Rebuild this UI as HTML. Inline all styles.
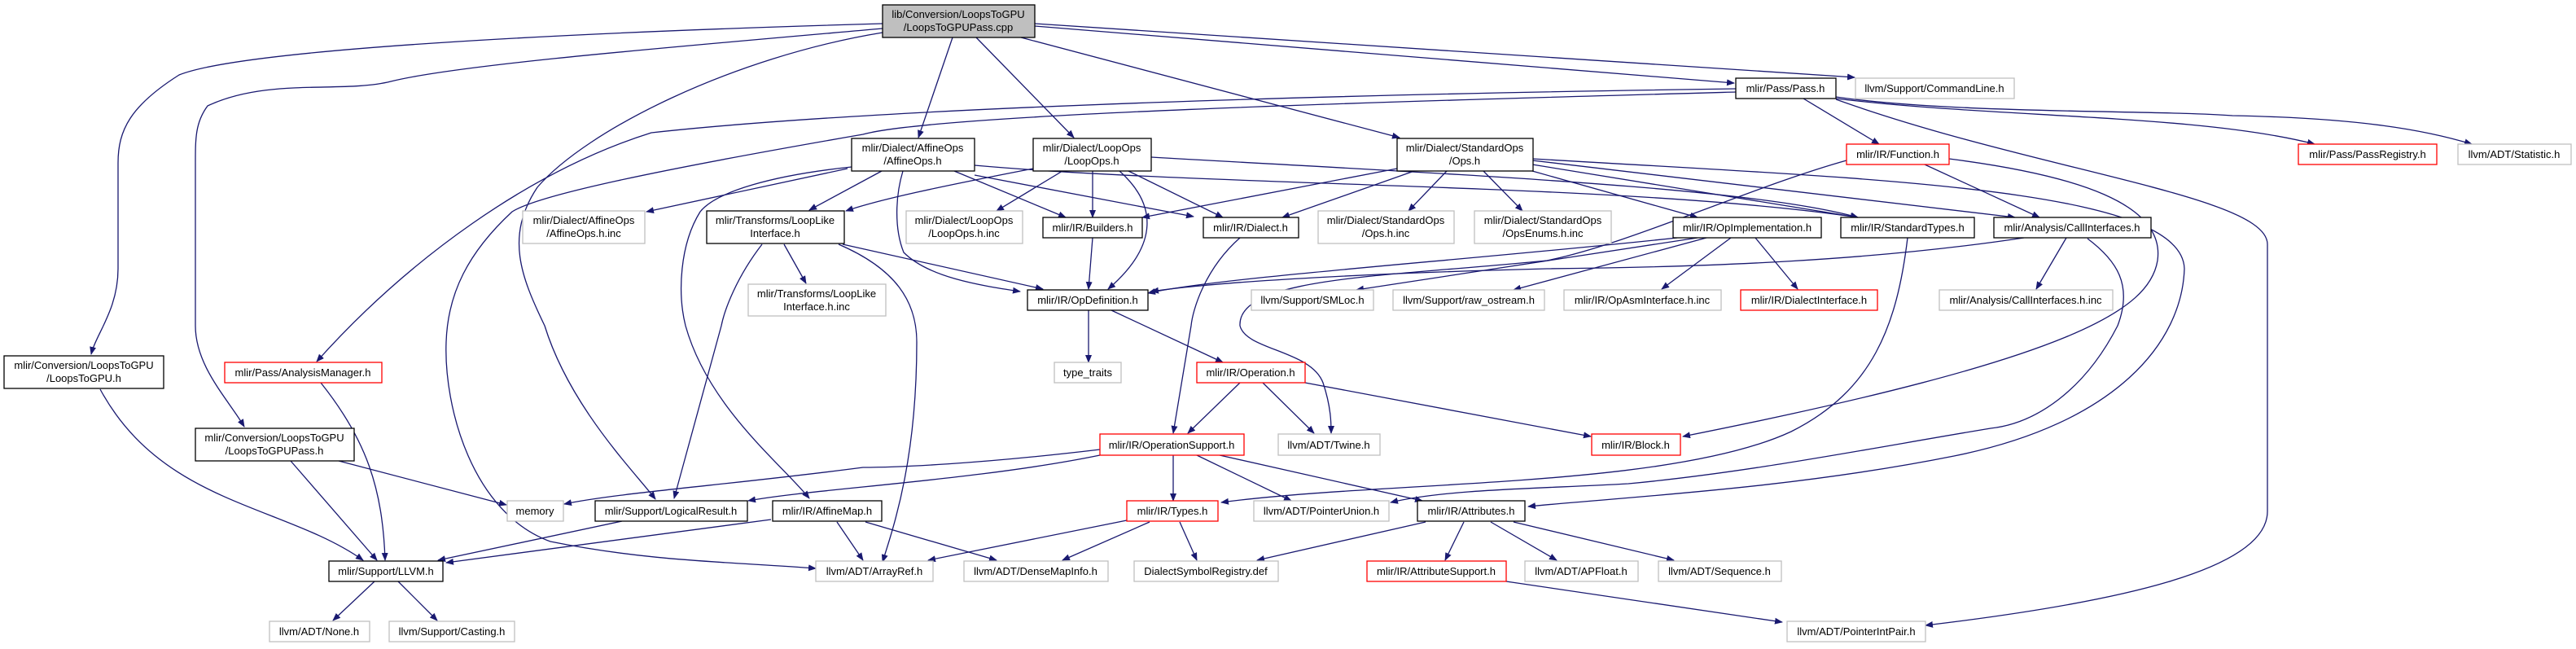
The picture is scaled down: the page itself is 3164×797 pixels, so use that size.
<!DOCTYPE html>
<html><head><meta charset="utf-8"><style>
html,body{margin:0;padding:0;background:#fff;}
svg{display:block;}
text{font-family:"Liberation Sans",sans-serif;font-size:13px;fill:#000;text-anchor:middle;}
.e{fill:none;stroke:#191970;stroke-width:1.3;}
.b{fill:#fff;stroke:#000;stroke-width:1.3;}
.g{fill:#fff;stroke:#bfbfbf;stroke-width:1.3;}
.r{fill:#fff;stroke:#ff0000;stroke-width:1.3;}
</style></head><body>
<svg width="3164" height="797" viewBox="0 0 3164 797" xmlns="http://www.w3.org/2000/svg">
<defs><marker id="a" markerWidth="10" markerHeight="8" refX="9" refY="4" orient="auto" markerUnits="userSpaceOnUse"><path d="M0,0 L10,4 L0,8 z" fill="#191970"/></marker></defs>
<g class="e" marker-end="url(#a)">
<path d="M1084,29 C700,40 300,60 220,92 C160,130 145,160 145,200 L145,330 C145,380 118,410 112,435"/>
<path d="M1084,35 C800,60 560,80 480,100 C420,115 330,95 255,130 C240,150 240,170 240,200 L240,400 C240,450 280,490 300,524"/>
<path d="M1084,40 C900,70 720,160 660,230 C620,290 640,340 669,400 C700,500 780,580 805,613"/>
<path d="M2132,109 C1700,115 1100,130 800,163 C650,210 500,320 389,444"/>
<path d="M2132,113 C1700,125 1150,140 1060,165 C800,210 660,240 629,260 C575,310 550,360 548,420 C545,500 580,630 676,665 C800,690 900,690 1002,698"/>
<path d="M1170,46 L1128,169"/>
<path d="M1199,46 L1319,169"/>
<path d="M1254,46 L1719,169"/>
<path d="M1271,32 L2130,102"/>
<path d="M1271,29 L2278,95"/>
<path d="M1041,207 L794,260"/>
<path d="M1083,210 L994,258"/>
<path d="M1269,207 C1150,230 1080,245 1039,259"/>
<path d="M1172,210 L1309,267"/>
<path d="M1197,215 L1466,266"/>
<path d="M1109,210 C1100,240 1098,280 1110,310 C1140,340 1200,350 1253,358"/>
<path d="M1046,205 C950,215 880,235 860,260 C835,300 832,360 842,400 C870,500 960,570 994,612"/>
<path d="M1197,203 C1500,230 2000,225 2282,267"/>
<path d="M1414,193 C1800,215 2150,230 2282,267"/>
<path d="M1882,210 L2085,267"/>
<path d="M1882,202 L2282,267"/>
<path d="M1882,197 L2475,267"/>
<path d="M1716,207 L1403,267"/>
<path d="M1737,210 L1575,267"/>
<path d="M1777,210 L1730,259"/>
<path d="M1822,210 L1870,259"/>
<path d="M1883,195 C2300,220 2680,230 2683,330 C2680,420 2600,520 2400,560 C2200,600 2000,610 1877,622"/>
<path d="M2343,292 C2330,400 2300,480 2200,530 C2050,600 1700,590 1500,617"/>
<path d="M2394,195 C2550,215 2660,250 2650,320 C2640,380 2550,440 2067,536"/>
<path d="M2564,293 C2600,320 2620,350 2601,400 C2560,480 2500,520 2445,526 C2300,550 2150,580 2000,594 C1900,600 1780,600 1708,617"/>
<path d="M2268,197 C2150,230 2000,300 1900,320 C1700,340 1520,340 1523,400 C1530,430 1610,430 1625,470 C1635,500 1635,520 1635,532"/>
<path d="M2060,292 C1800,320 1500,340 1410,360"/>
<path d="M2085,292 L1666,356"/>
<path d="M2096,292 L1859,356"/>
<path d="M2126,292 L2041,355"/>
<path d="M2156,292 L2208,355"/>
<path d="M2538,292 L2501,355"/>
<path d="M2486,292 C2300,320 2100,328 1900,330 C1700,335 1500,345 1414,358"/>
<path d="M2364,202 L2505,267"/>
<path d="M2215,121 L2308,177"/>
<path d="M2255,121 C2450,145 2700,140 2843,177"/>
<path d="M2255,119 C2400,140 2650,135 2742,142 C2900,145 2980,160 3036,177"/>
<path d="M2255,122 C2500,210 2785,240 2785,300 L2785,628 C2785,700 2600,740 2365,768"/>
<path d="M1305,210 L1224,259"/>
<path d="M1342,210 L1342,267"/>
<path d="M1386,210 L1502,267"/>
<path d="M1375,210 C1420,250 1425,300 1361,355"/>
<path d="M1342,292 L1337,355"/>
<path d="M1523,292 C1480,330 1465,380 1463,400 L1441,532"/>
<path d="M1035,300 L1281,355"/>
<path d="M1030,300 C1100,330 1126,370 1126,420 C1126,560 1100,640 1084,690"/>
<path d="M963,300 L990,348"/>
<path d="M936,300 C905,340 890,380 886,400 L828,612"/>
<path d="M1337,381 L1337,445"/>
<path d="M1365,381 L1502,445"/>
<path d="M1523,470 L1459,532"/>
<path d="M1551,470 L1614,532"/>
<path d="M1603,470 L1954,536"/>
<path d="M1441,559 L1441,615"/>
<path d="M1470,559 L1586,615"/>
<path d="M1498,559 L1747,615"/>
<path d="M1351,552 C1200,570 1100,574 1060,574 C900,595 760,605 693,619"/>
<path d="M1351,559 C1200,590 1000,600 919,615"/>
<path d="M1384,639 L1140,688"/>
<path d="M1412,641 L1305,688"/>
<path d="M1449,641 L1470,688"/>
<path d="M1751,641 L1544,688"/>
<path d="M1798,641 L1775,688"/>
<path d="M1831,641 L1912,688"/>
<path d="M1859,641 L2056,688"/>
<path d="M1850,714 L2189,764"/>
<path d="M1028,641 L1060,688"/>
<path d="M1063,641 L1224,688"/>
<path d="M947,638 L548,691"/>
<path d="M764,640 L538,688"/>
<path d="M123,478 C200,620 350,620 446,688"/>
<path d="M357,566 L463,688"/>
<path d="M416,566 L622,620"/>
<path d="M394,470 C450,540 470,600 473,688"/>
<path d="M460,714 L409,762"/>
<path d="M489,714 L537,762"/>
</g>
<g>
<rect x="1084" y="6" width="187" height="40" fill="#bfbfbf" stroke="#000" stroke-width="1.3"/><text x="1177" y="22">lib/Conversion/LoopsToGPU</text><text x="1177" y="38">/LoopsToGPUPass.cpp</text>
<rect class="b" x="2132" y="96" width="123" height="25"/><text x="2193" y="113">mlir/Pass/Pass.h</text>
<rect class="g" x="2279" y="96" width="195" height="25"/><text x="2376" y="113">llvm/Support/CommandLine.h</text>
<rect class="b" x="1046" y="170" width="151" height="40"/><text x="1121" y="186">mlir/Dialect/AffineOps</text><text x="1121" y="202">/AffineOps.h</text>
<rect class="b" x="1269" y="170" width="145" height="40"/><text x="1341" y="186">mlir/Dialect/LoopOps</text><text x="1341" y="202">/LoopOps.h</text>
<rect class="b" x="1716" y="170" width="167" height="40"/><text x="1799" y="186">mlir/Dialect/StandardOps</text><text x="1799" y="202">/Ops.h</text>
<rect class="r" x="2268" y="177" width="126" height="25"/><text x="2331" y="194">mlir/IR/Function.h</text>
<rect class="r" x="2823" y="177" width="170" height="25"/><text x="2908" y="194">mlir/Pass/PassRegistry.h</text>
<rect class="g" x="3019" y="177" width="139" height="25"/><text x="3088" y="194">llvm/ADT/Statistic.h</text>
<rect class="g" x="642" y="259" width="150" height="40"/><text x="717" y="275">mlir/Dialect/AffineOps</text><text x="717" y="291">/AffineOps.h.inc</text>
<rect class="b" x="868" y="259" width="169" height="40"/><text x="952" y="275">mlir/Transforms/LoopLike</text><text x="952" y="291">Interface.h</text>
<rect class="g" x="1113" y="259" width="143" height="40"/><text x="1184" y="275">mlir/Dialect/LoopOps</text><text x="1184" y="291">/LoopOps.h.inc</text>
<rect class="b" x="1281" y="267" width="122" height="25"/><text x="1342" y="284">mlir/IR/Builders.h</text>
<rect class="b" x="1478" y="267" width="117" height="25"/><text x="1536" y="284">mlir/IR/Dialect.h</text>
<rect class="g" x="1619" y="259" width="167" height="40"/><text x="1702" y="275">mlir/Dialect/StandardOps</text><text x="1702" y="291">/Ops.h.inc</text>
<rect class="g" x="1811" y="259" width="168" height="40"/><text x="1895" y="275">mlir/Dialect/StandardOps</text><text x="1895" y="291">/OpsEnums.h.inc</text>
<rect class="b" x="2055" y="267" width="182" height="25"/><text x="2146" y="284">mlir/IR/OpImplementation.h</text>
<rect class="b" x="2261" y="267" width="164" height="25"/><text x="2343" y="284">mlir/IR/StandardTypes.h</text>
<rect class="b" x="2449" y="267" width="193" height="25"/><text x="2545" y="284">mlir/Analysis/CallInterfaces.h</text>
<rect class="g" x="919" y="349" width="169" height="39"/><text x="1003" y="365">mlir/Transforms/LoopLike</text><text x="1003" y="381">Interface.h.inc</text>
<rect class="b" x="1262" y="356" width="148" height="25"/><text x="1336" y="373">mlir/IR/OpDefinition.h</text>
<rect class="g" x="1537" y="356" width="150" height="25"/><text x="1612" y="373">llvm/Support/SMLoc.h</text>
<rect class="g" x="1711" y="356" width="186" height="25"/><text x="1804" y="373">llvm/Support/raw_ostream.h</text>
<rect class="g" x="1921" y="356" width="193" height="25"/><text x="2017" y="373">mlir/IR/OpAsmInterface.h.inc</text>
<rect class="r" x="2138" y="356" width="168" height="25"/><text x="2222" y="373">mlir/IR/DialectInterface.h</text>
<rect class="g" x="2382" y="356" width="213" height="25"/><text x="2488" y="373">mlir/Analysis/CallInterfaces.h.inc</text>
<rect class="b" x="5" y="437" width="196" height="40"/><text x="103" y="453">mlir/Conversion/LoopsToGPU</text><text x="103" y="469">/LoopsToGPU.h</text>
<rect class="r" x="276" y="445" width="193" height="25"/><text x="372" y="462">mlir/Pass/AnalysisManager.h</text>
<rect class="g" x="1295" y="445" width="82" height="25"/><text x="1336" y="462">type_traits</text>
<rect class="r" x="1470" y="445" width="133" height="25"/><text x="1536" y="462">mlir/IR/Operation.h</text>
<rect class="b" x="240" y="526" width="195" height="40"/><text x="337" y="542">mlir/Conversion/LoopsToGPU</text><text x="337" y="558">/LoopsToGPUPass.h</text>
<rect class="r" x="1351" y="533" width="177" height="26"/><text x="1439" y="551">mlir/IR/OperationSupport.h</text>
<rect class="g" x="1570" y="533" width="125" height="26"/><text x="1632" y="551">llvm/ADT/Twine.h</text>
<rect class="r" x="1955" y="533" width="109" height="26"/><text x="2009" y="551">mlir/IR/Block.h</text>
<rect class="g" x="623" y="615" width="69" height="25"/><text x="657" y="632">memory</text>
<rect class="b" x="731" y="615" width="187" height="25"/><text x="824" y="632">mlir/Support/LogicalResult.h</text>
<rect class="b" x="949" y="615" width="134" height="25"/><text x="1016" y="632">mlir/IR/AffineMap.h</text>
<rect class="r" x="1384" y="615" width="112" height="25"/><text x="1440" y="632">mlir/IR/Types.h</text>
<rect class="g" x="1540" y="615" width="166" height="25"/><text x="1623" y="632">llvm/ADT/PointerUnion.h</text>
<rect class="b" x="1741" y="615" width="132" height="25"/><text x="1807" y="632">mlir/IR/Attributes.h</text>
<rect class="b" x="404" y="689" width="140" height="25"/><text x="474" y="706">mlir/Support/LLVM.h</text>
<rect class="g" x="1002" y="689" width="144" height="25"/><text x="1074" y="706">llvm/ADT/ArrayRef.h</text>
<rect class="g" x="1184" y="689" width="177" height="25"/><text x="1272" y="706">llvm/ADT/DenseMapInfo.h</text>
<rect class="g" x="1393" y="689" width="177" height="25"/><text x="1481" y="706">DialectSymbolRegistry.def</text>
<rect class="r" x="1679" y="689" width="171" height="25"/><text x="1764" y="706">mlir/IR/AttributeSupport.h</text>
<rect class="g" x="1873" y="689" width="139" height="25"/><text x="1942" y="706">llvm/ADT/APFloat.h</text>
<rect class="g" x="2037" y="689" width="151" height="25"/><text x="2112" y="706">llvm/ADT/Sequence.h</text>
<rect class="g" x="331" y="763" width="123" height="25"/><text x="392" y="780">llvm/ADT/None.h</text>
<rect class="g" x="478" y="763" width="154" height="25"/><text x="555" y="780">llvm/Support/Casting.h</text>
<rect class="g" x="2195" y="763" width="170" height="25"/><text x="2280" y="780">llvm/ADT/PointerIntPair.h</text>
</g>
</svg>
</body></html>
